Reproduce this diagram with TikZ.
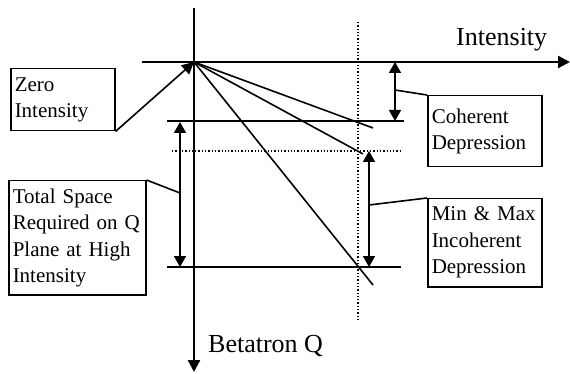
\documentclass[tikz,border=0pt]{standalone}
\usepackage{fontspec}
\setmainfont{Liberation Serif}
\usetikzlibrary{arrows.meta}
\begin{document}
\begin{tikzpicture}[x=1pt,y=-1pt,
  axis/.style={line width=2.4pt},
  thin line/.style={line width=1.6pt},
  dotline/.style={line width=1.3pt, dotted},
  tip/.style={-{Triangle[length=12pt,width=12pt]}},
  dtip/.style={{Triangle[length=11pt,width=12pt]}-{Triangle[length=11pt,width=12pt]}},
  labelbox/.style={draw, line width=1.5pt, anchor=north west, align=left,
    inner xsep=4pt, inner ysep=0pt, font=\fontsize{21}{26.5}\selectfont},
  axislabel/.style={font=\fontsize{26}{30}\selectfont, inner sep=0pt}
]
\useasboundingbox (0,0) rectangle (570,374);
\coordinate (O) at (194,62);
% axes
\coordinate (vtop) at (194,8);
\coordinate (vbot) at (194,372);
\coordinate (hleft) at (142,62);
\coordinate (hright) at (570,62);
\draw[axis] (vtop) -- (O);
\draw[axis, tip] (O) -- (vbot);
\draw[axis] (hleft) -- (O);
\draw[axis, tip] (O) -- (hright);
\node[axislabel, anchor=base west] (ilab) at (456,46) {Intensity};
\node[axislabel, anchor=base west] (blab) at (208,352) {Betatron Q};
% dotted guide lines
\coordinate (dvt) at (358,22);
\coordinate (dvb) at (358,322);
\draw[dotline] (dvt) -- (dvb);
\coordinate (dhl) at (172,151);
\coordinate (dhr) at (401,151);
\draw[dotline] (dhl) -- (dhr);
% horizontal levels
\coordinate (h1l) at (167,121);
\coordinate (h1r) at (404,121);
\draw[thin line] (h1l) -- (h1r);
\coordinate (h2l) at (167,267);
\coordinate (h2r) at (401,267);
\draw[thin line] (h2l) -- (h2r);
% lines from origin
\coordinate (l1) at (373,128);
\coordinate (l2) at (363,154);
\coordinate (l3) at (373,285);
\draw[thin line] (O) -- (l1);
\draw[thin line] (O) -- (l2);
\draw[thin line] (O) -- (l3);
% dimension arrows
\coordinate (ca) at (395,62);
\coordinate (cb) at (395,121);
\draw[thin line, dtip] (ca) -- (cb);
\coordinate (ta) at (180,122);
\coordinate (tb) at (180,267);
\draw[thin line, dtip] (ta) -- (tb);
\coordinate (ma) at (369,151);
\coordinate (mb) at (369,267);
\draw[thin line, dtip] (ma) -- (mb);
% label boxes
\node[labelbox, minimum width=104pt, minimum height=62pt, text width=96pt] (zero) at (10,68) {Zero\\Intensity};
\node[labelbox, minimum width=137pt, minimum height=114pt, text width=129pt] (tot) at (8,180) {Total Space\\Required on Q\\Plane at High\\Intensity};
\node[labelbox, minimum width=114pt, minimum height=71pt, text width=106pt] (coh) at (427,95) {Coherent\\Depression};
\node[labelbox, minimum width=114pt, minimum height=88pt, text width=106pt] (mm) at (427,198) {Min \& Max\\Incoherent\\Depression};
% connectors
\draw[thin line, tip] (zero.south east) -- (O);
\coordinate (tc) at (180,193);
\draw[thin line] (tot.north east) -- (tc);
\coordinate (cc) at (395,90);
\draw[thin line] (coh.north west) -- (cc);
\coordinate (mc) at (369,205);
\draw[thin line] (mm.north west) -- (mc);
\end{tikzpicture}
\end{document}
